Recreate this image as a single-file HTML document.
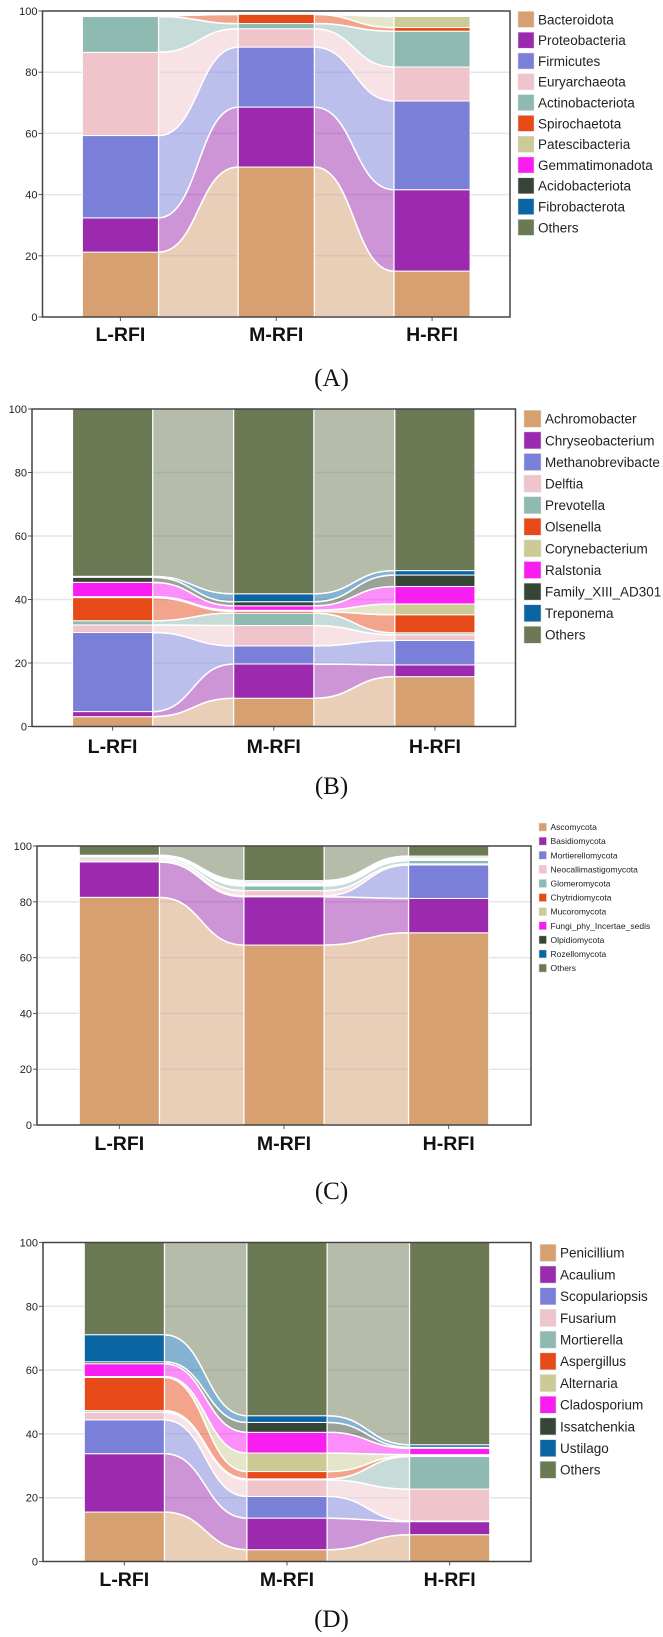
<!DOCTYPE html>
<html><head><meta charset="utf-8"><style>
html,body{margin:0;padding:0;background:#fff;}
svg{display:block;font-family:"Liberation Sans",sans-serif;}
</style></head><body>
<svg id="fig" width="663" height="1637" viewBox="0 0 663 1637" xmlns="http://www.w3.org/2000/svg"></svg>
<script>
const groups = ["L-RFI","M-RFI","H-RFI"];
const yTicks = [0,20,40,60,80,100];
const colors = ["#D6A071","#9B2AAE","#7A80D8","#EFC5CB","#8FBAB2","#E64A19","#CCCB96","#F81EF2","#364535","#0C65A3","#6B7A55"];

// Panel A
const aSeries = ["Bacteroidota","Proteobacteria","Firmicutes","Euryarchaeota","Actinobacteriota","Spirochaetota","Patescibacteria","Gemmatimonadota","Acidobacteriota","Fibrobacterota","Others"];
const aL = [21.2,11.2,26.9,27.2,11.7,0.3,0.2,0,0,0,0];
const aM = [49.0,19.6,19.6,6.0,1.7,3.0,0,0,0,0,0];
const aH = [15.0,26.6,29.0,11.1,11.7,1.2,3.6,0,0,0,0];
// Panel B
const bSeries = ["Achromobacter","Chryseobacterium","Methanobrevibacte","Delftia","Prevotella","Olsenella","Corynebacterium","Ralstonia","Family_XIII_AD301","Treponema","Others"];
const bL = [3.1,1.6,24.9,2.4,1.3,7.3,0.3,4.5,1.6,0.3,52.7];
const bM = [8.9,10.8,5.7,6.4,3.9,0.6,0.3,1.4,1.3,2.5,58.2];
const bH = [15.7,3.7,7.7,1.8,0.6,5.7,3.4,5.5,3.6,1.4,50.9];
// Panel C
const cSeries = ["Ascomycota","Basidiomycota","Mortierellomycota","Neocallimastigomycota","Glomeromycota","Chytridiomycota","Mucoromycota","Fungi_phy_Incertae_sedis","Olpidiomycota","Rozellomycota","Others"];
const cL = [81.6,12.7,0.3,0.8,0.6,0.1,0.2,0.2,0.1,0.1,3.3];
const cM = [64.5,17.3,0.3,1.9,1.7,0.3,0.4,0.4,0.4,0.4,12.4];
const cH = [68.9,12.3,12.0,0.4,1.2,0.2,0.3,0.3,0.4,0.4,3.6];
// Panel D
const dSeries = ["Penicillium","Acaulium","Scopulariopsis","Fusarium","Mortierella","Aspergillus","Alternaria","Cladosporium","Issatchenkia","Ustilago","Others"];
const dL = [15.5,18.3,10.6,2.4,0.5,10.4,0.3,4.0,0.6,8.5,28.9];
const dM = [3.7,9.9,6.8,5.2,0.3,2.3,5.8,6.5,3.1,2.1,54.3];
const dH = [8.4,4.1,0.2,10.0,10.2,0.3,0.3,2.0,0.3,0.8,63.4];

const panels = [
 {id:"a",letter:"(A)",series:aSeries,vals:[aL,aM,aH],x0:42.5,x1:510,y100:11,y0:317,bw:76,catY:341,letY:386,
  leg:{x:518,y:9,sw:16,sh:16,dy:20.8,fs:13.5}},
 {id:"b",letter:"(B)",series:bSeries,vals:[bL,bM,bH],x0:32,x1:515.5,y100:409,y0:726.5,bw:80,catY:753,letY:794,
  leg:{x:524,y:408,sw:17,sh:17,dy:21.6,fs:13.5}},
 {id:"c",letter:"(C)",series:cSeries,vals:[cL,cM,cH],x0:37,x1:531,y100:846,y0:1125,bw:80,catY:1150,letY:1199,
  leg:{x:539,y:820,sw:7.5,sh:8,dy:14.1,fs:8.5}},
 {id:"d",letter:"(D)",series:dSeries,vals:[dL,dM,dH],x0:43,x1:531,y100:1242.5,y0:1561.5,bw:80,catY:1586,letY:1627,
  leg:{x:540,y:1242,sw:16,sh:17,dy:21.7,fs:13.5}}
];

const NS="http://www.w3.org/2000/svg";
const svg=document.getElementById("fig");
function mk(tag,attrs,parent){const e=document.createElementNS(NS,tag);for(const k in attrs)e.setAttribute(k,attrs[k]);(parent||svg).appendChild(e);return e;}

panels.forEach(p=>{
  const g=mk("g",{});
  
  
  const yS=v=>p.y0-(v/100)*(p.y0-p.y100);
  const step=(p.x1-p.x0)/groups.length;
  const xC=i=>p.x0+step*(i+0.5);
  yTicks.forEach(t=>{
    if(t>0&&t<100){const l=mk("line",{x1:p.x0,x2:p.x1,y1:yS(t),y2:yS(t),stroke:"#e4e4f0","stroke-width":1.5},g);
      
      }
    const tk=mk("line",{x1:p.x0-4,x2:p.x0,y1:yS(t),y2:yS(t),stroke:"#555","stroke-width":1},g);
    
    
    const tx=mk("text",{x:p.x0-5,y:yS(t)+4,"text-anchor":"end","font-size":11,fill:"#222"},g);
    tx.textContent=t;
    
    
  });
  const cum=p.vals.map(arr=>{let s=0;return arr.map(v=>{const b=s;s+=v;return [b,s];});});
  for(let i=0;i<groups.length-1;i++){
    const xa=xC(i)+p.bw/2, xb=xC(i+1)-p.bw/2, xm=(xa+xb)/2;
    p.series.forEach((s,k)=>{
      const A=cum[i][k],B=cum[i+1][k];
      if(A[1]-A[0]<=0&&B[1]-B[0]<=0)return;
      const d=`M${xa},${yS(A[1])} C${xm},${yS(A[1])} ${xm},${yS(B[1])} ${xb},${yS(B[1])} L${xb},${yS(B[0])} C${xm},${yS(B[0])} ${xm},${yS(A[0])} ${xa},${yS(A[0])} Z`;
      const f=mk("path",{d:d,fill:colors[k],"fill-opacity":0.5,stroke:"#fff","stroke-width":1.5},g);
      
      
    });
  }
  groups.forEach((grp,i)=>{
    p.series.forEach((s,k)=>{
      const c=cum[i][k]; if(c[1]-c[0]<=0)return;
      const r=mk("rect",{x:xC(i)-p.bw/2,y:yS(c[1]),width:p.bw,height:yS(c[0])-yS(c[1]),fill:colors[k],stroke:"#fff","stroke-width":1},g);
      
      
    });
    const tk=mk("line",{x1:xC(i),x2:xC(i),y1:p.y0,y2:p.y0+4,stroke:"#555","stroke-width":1},g);
    
    
    const t=mk("text",{x:xC(i),y:p.catY,"text-anchor":"middle","font-size":19.5,"font-weight":"bold",fill:"#111"},g);
    t.textContent=grp;
    
    
  });
  const fr=mk("rect",{x:p.x0,y:p.y100,width:p.x1-p.x0,height:p.y0-p.y100,fill:"none",stroke:"#444","stroke-width":1.5},g);
  
  
  const L=p.leg;
  p.series.forEach((s,k)=>{
    const cy=L.y+L.dy*k+L.dy/2;
    const sw=mk("rect",{x:L.x,y:cy-L.sh/2,width:L.sw,height:L.sh,fill:colors[k],stroke:"#ddd","stroke-width":0.5},g);
    
    
    const t=mk("text",{x:L.x+L.sw+4,y:cy+L.fs*0.36,"font-size":L.fs,fill:"#222"},g);
    t.textContent=s;
    
    
  });
  const lt=mk("text",{x:331.5,y:p.letY,"text-anchor":"middle","font-size":25,"font-family":"Liberation Serif, serif",fill:"#111"},g);
  lt.textContent=p.letter;
  
  
});
</script>
</body></html>
